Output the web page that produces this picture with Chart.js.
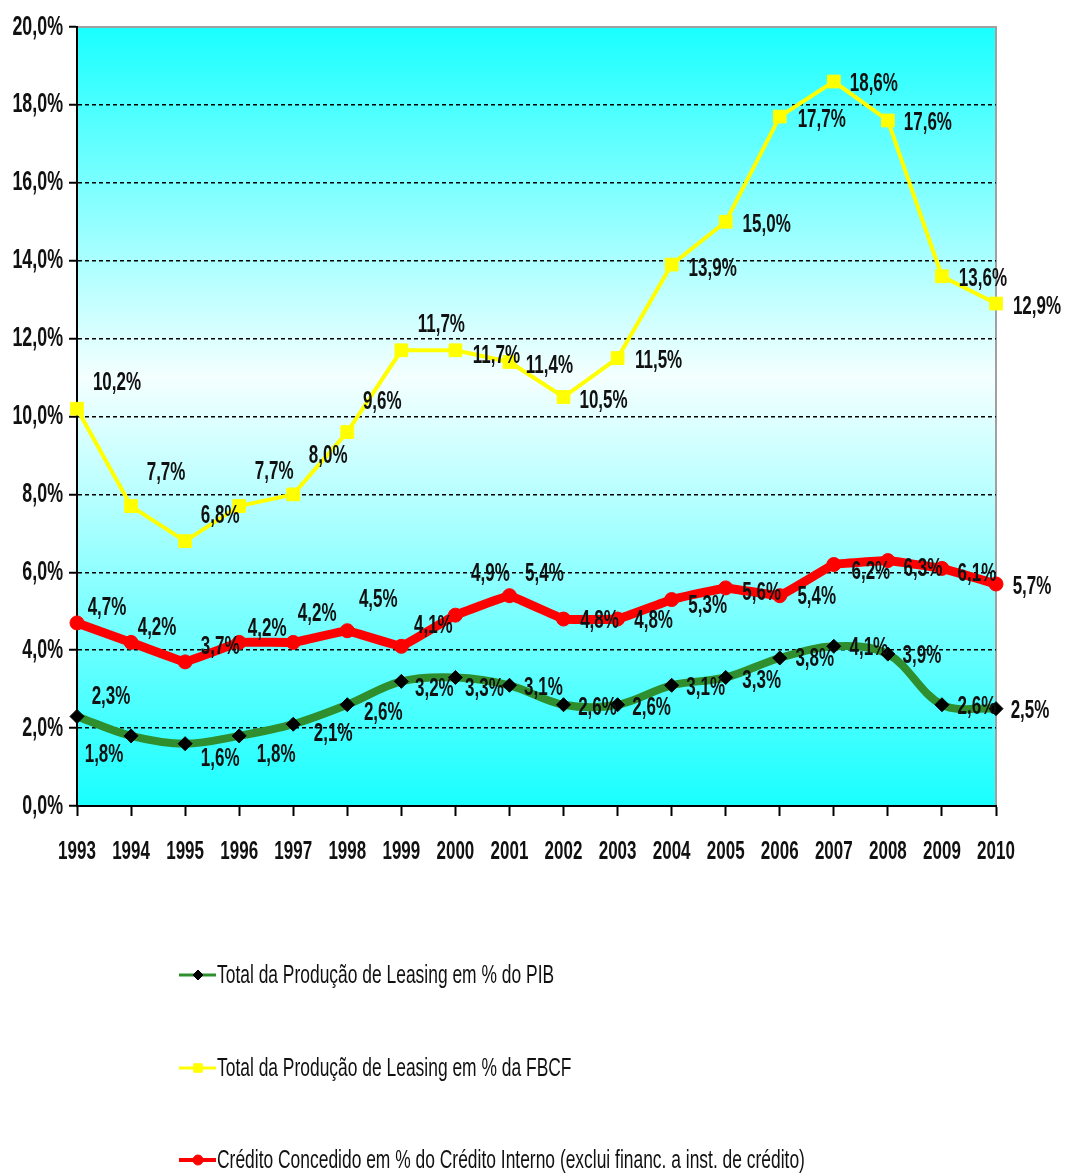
<!DOCTYPE html>
<html>
<head>
<meta charset="utf-8">
<script src="https://cdn.jsdelivr.net/npm/chart.js@4.4.0/dist/chart.umd.min.js"></script>
<style>
  body { margin: 0; background: #fff; }
  canvas { display: block; }
</style>
</head>
<body>
<canvas id="myChart" width="1065" height="1173"></canvas>
<script>
const years = ['1993','1994','1995','1996','1997','1998','1999','2000','2001','2002','2003','2004','2005','2006','2007','2008','2009','2010'];
const pib = [2.3, 1.8, 1.6, 1.8, 2.1, 2.6, 3.2, 3.3, 3.1, 2.6, 2.6, 3.1, 3.3, 3.8, 4.1, 3.9, 2.6, 2.5];
const fbcf = [10.2, 7.7, 6.8, 7.7, 8.0, 9.6, 11.7, 11.7, 11.4, 10.5, 11.5, 13.9, 15.0, 17.7, 18.6, 17.6, 13.6, 12.9];
const credito = [4.7, 4.2, 3.7, 4.2, 4.2, 4.5, 4.1, 4.9, 5.4, 4.8, 4.8, 5.3, 5.6, 5.4, 6.2, 6.3, 6.1, 5.7];
const seriesNames = [
  'Total da Produção de Leasing em % do PIB',
  'Total da Produção de Leasing em % da FBCF',
  'Crédito Concedido em % do Crédito Interno (exclui financ. a inst. de crédito)'
];

// where each value label sits relative to its point [dx, dy]
const pibLabelShift = [[34,-20],[-27,19],[35,15],[37,19],[40,10],[36,8],[33,7],[29,11],[34,3],[34,3],[34,3],[34,3],[36,3],[35,1],[35,2],[34,2],[35,2],[34,2]];
const fbcfLabelShift = [[40,-26],[35,-33],[35,-25],[35,-34],[35,-39],[35,-30],[40,-25],[41,6],[40,4],[40,4],[41,3],[41,4],[41,3],[42,3],[40,2],[40,2],[41,3],[41,3]];
const creditoLabelShift = [[30,-15],[26,-15],[35,-15],[28,-14],[24,-29],[31,-31],[32,-20],[35,-41],[35,-22],[36,2],[36,2],[36,6],[36,5],[37,1],[37,7],[35,8],[35,5],[36,3]];

const FONT = "'Liberation Sans', Arial, sans-serif";
const fmt = v => v.toFixed(1).replace('.', ',') + '%';

// no Arial Narrow here, so squeeze the text by hand
const SX = 0.85, SY = 1.3;
function narrowText(ctx, text, x, y, font, align) {
  ctx.save();
  ctx.font = font;
  ctx.textAlign = align || 'center';
  ctx.textBaseline = 'middle';
  ctx.scale(SX, SY);
  ctx.fillText(text, x / SX, y / SY);
  ctx.restore();
}

const plotBackground = {
  id: 'plotBackground',
  beforeDraw(chart) {
    const { ctx, chartArea: a } = chart;
    const g = ctx.createLinearGradient(0, a.top, 0, a.bottom);
    g.addColorStop(0, '#19ffff');
    g.addColorStop(0.45, '#f4ffff');
    g.addColorStop(1, '#19ffff');
    ctx.save();
    ctx.fillStyle = g;
    ctx.fillRect(a.left, a.top, a.right - a.left, a.bottom - a.top);
    ctx.strokeStyle = '#a0a0a0';
    ctx.lineWidth = 2;
    ctx.beginPath();
    ctx.moveTo(a.left, a.top);
    ctx.lineTo(a.right, a.top);
    ctx.lineTo(a.right, a.bottom);
    ctx.stroke();
    ctx.restore();
  }
};

const axisLabels = {
  id: 'axisLabels',
  afterDraw(chart) {
    const { ctx, scales } = chart;
    ctx.save();
    ctx.fillStyle = '#111';
    scales.x.ticks.forEach((t, i) => {
      narrowText(ctx, years[i], scales.x.getPixelForTick(i), chart.chartArea.bottom + 46, 'bold 20px ' + FONT);
    });
    scales.y.ticks.forEach((t, i) => {
      narrowText(ctx, fmt(t.value), chart.chartArea.left - 14, scales.y.getPixelForTick(i), 'bold 21px ' + FONT, 'right');
    });
    ctx.restore();
  }
};

const valueLabels = {
  id: 'valueLabels',
  afterDatasetsDraw(chart) {
    const { ctx } = chart;
    const shifts = [pibLabelShift, fbcfLabelShift, creditoLabelShift];
    ctx.save();
    ctx.fillStyle = '#111';
    chart.data.datasets.forEach((ds, di) => {
      chart.getDatasetMeta(di).data.forEach((pt, i) => {
        const s = shifts[di][i];
        narrowText(ctx, fmt(ds.data[i]), pt.x + s[0], pt.y + s[1], 'bold 20px ' + FONT);
      });
    });
    ctx.restore();
  }
};

const bottomLegend = {
  id: 'bottomLegend',
  afterDraw(chart) {
    const { ctx } = chart;
    const rows = [975, 1068, 1160];
    ctx.save();
    chart.data.datasets.forEach((ds, i) => {
      const y = rows[i];
      ctx.strokeStyle = ds.borderColor;
      ctx.lineWidth = i === 2 ? 4 : 3;
      ctx.beginPath();
      ctx.moveTo(179, y);
      ctx.lineTo(216, y);
      ctx.stroke();
      ctx.fillStyle = ds.pointBackgroundColor;
      ctx.strokeStyle = ds.pointBorderColor;
      ctx.lineWidth = 1;
      Chart.helpers.drawPoint(ctx, { pointStyle: ds.pointStyle, radius: i === 1 ? 6 : 5, borderWidth: 1 }, 198, y);
      ctx.fillStyle = '#111';
      narrowText(ctx, seriesNames[i], 217, y + 1, '20.5px ' + FONT, 'left');
    });
    ctx.restore();
  }
};

const data = {
  labels: years,
  datasets: [{
    label: seriesNames[0],
    data: pib,
    borderColor: '#2f8f2f',
    borderWidth: 8,
    tension: 0.35,
    pointStyle: 'rectRot',
    pointRadius: 7,
    pointBackgroundColor: '#000',
    pointBorderColor: '#000',
    pointBorderWidth: 1
  }, {
    label: seriesNames[1],
    data: fbcf,
    borderColor: '#ffff00',
    borderWidth: 4,
    tension: 0,
    pointStyle: 'rect',
    pointRadius: 9,
    pointBackgroundColor: '#ffff00',
    pointBorderColor: '#ffff00',
    pointBorderWidth: 1
  }, {
    label: seriesNames[2],
    data: credito,
    borderColor: '#ff0000',
    borderWidth: 9,
    tension: 0.05,
    pointStyle: 'circle',
    pointRadius: 7,
    pointBackgroundColor: '#ff0000',
    pointBorderColor: '#ff0000',
    pointBorderWidth: 1
  }]
};

const config = {
  type: 'line',
  data: data,
  options: {
    responsive: false,
    animation: false,
    events: [],
    layout: { padding: { top: 27, right: 69, left: 0, bottom: 0 } },
    plugins: { legend: { display: false }, tooltip: { enabled: false } },
    scales: {
      x: {
        offset: false,
        border: { color: '#000', width: 2 },
        grid: { drawOnChartArea: false, drawTicks: true, tickLength: 10, tickColor: '#000', tickWidth: 2 },
        ticks: { display: false, autoSkip: false, maxRotation: 0 },
        afterFit: s => { s.height = 1173 - 806; s.paddingLeft = 0; s.paddingRight = 0; }
      },
      y: {
        min: 0,
        max: 20,
        border: { color: '#000', width: 2, dash: [4, 3] },
        grid: {
          color: c => (c.tick.value === 0 || c.tick.value === 20) ? 'rgba(0,0,0,0)' : '#000',
          lineWidth: 1.5,
          tickColor: '#000',
          tickWidth: 2,
          tickLength: 8,
          tickBorderDash: []
        },
        ticks: { display: false, stepSize: 2 },
        afterFit: s => { s.width = 77; s.paddingTop = 0; s.paddingBottom = 0; }
      }
    }
  },
  plugins: [plotBackground, axisLabels, valueLabels, bottomLegend]
};

new Chart(document.getElementById('myChart'), config);
</script>
</body>
</html>
